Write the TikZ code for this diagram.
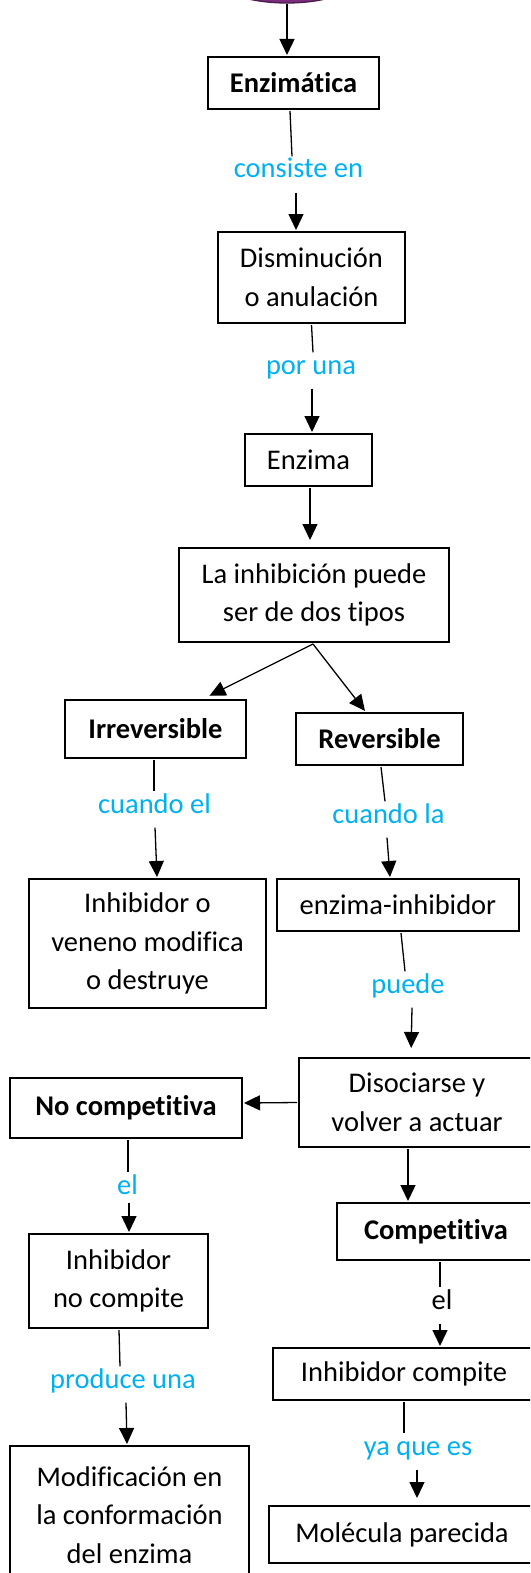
\documentclass[tikz,border=0pt]{standalone}
\usepackage{fontspec}
\setmainfont{Carlito}[Ligatures={NoCommon}]
\usetikzlibrary{positioning,arrows.meta,shapes.geometric}
\definecolor{celeste}{RGB}{0,176,240}
\definecolor{morado}{RGB}{125,45,125}

\begin{document}
\begin{tikzpicture}[x=1pt,y=1pt,font=\fontsize{28.5}{38.5}\selectfont,line width=1.3pt]
  \tikzstyle{caja} = [rectangle, draw, align=center, inner sep=0pt, outer sep=2pt]
  \tikzstyle{enlace} = [text=celeste, anchor=base, inner sep=2pt, text height=19pt, text depth=12pt]
  \tikzstyle{flecha} = [-{Triangle[width=15pt,length=16pt]}]

  \useasboundingbox (0,0) rectangle (530,-1573);
  \clip (0,0) rectangle (530,-1573);

  \node[ellipse, draw=morado!60!black, fill=morado, minimum width=154pt, minimum height=60pt, inner sep=0pt] (origen) at (287,27) {};

  \node[caja, minimum width=171pt, minimum height=52pt] (enzimatica) at (293.5,-83) {\textbf{Enzimática}};
  \node[enlace] (consiste) at (298.5,-178) {consiste en};
  \node[caja, minimum width=187pt, minimum height=91pt] (disminucion) at (311.5,-277.5) {Disminución\\o anulación};
  \node[enlace] (porUna) at (311,-374) {por una};
  \node[caja, minimum width=127pt, minimum height=52pt] (enzima) at (308.5,-460) {Enzima};
  \node[caja, minimum width=270pt, minimum height=94pt] (tipos) at (314,-595) {La inhibición puede\\ser de dos tipos};

  \node[caja, minimum width=181pt, minimum height=58pt] (irrev) at (155.5,-729) {\textbf{Irreversible}};
  \node[caja, minimum width=167pt, minimum height=52pt] (rev) at (379.5,-739) {\textbf{Reversible}};
  \node[enlace] (cuandoEl) at (154.5,-813) {cuando el};
  \node[enlace] (cuandoLa) at (388.5,-823) {cuando la};
  \node[caja, minimum width=237pt, minimum height=129pt] (veneno) at (147.5,-943.5) {Inhibidor o\\veneno modifica\\o destruye};
  \node[caja, minimum width=242pt, minimum height=52pt] (complejo) at (398,-905) {enzima-inhibidor};
  \node[enlace] (puede) at (408,-993) {puede};
  \node[caja, minimum width=236pt, minimum height=89pt] (disociarse) at (417,-1102.5) {Disociarse y\\volver a actuar};

  \node[caja, minimum width=232pt, minimum height=60pt] (noComp) at (126,-1108) {\textbf{No competitiva}};
  \node[enlace, text depth=6pt] (el1) at (127.5,-1194) {el};
  \node[caja, minimum width=179pt, minimum height=94pt] (noCompite) at (118.5,-1281) {Inhibidor\\no compite};
  \node[enlace] (produce) at (123,-1388) {produce una};
  \node[caja, minimum width=239pt, minimum height=138pt] (modif) at (129.5,-1515) {Modificación en\\la conformación\\del enzima};

  \node[caja, minimum width=198pt, minimum height=57pt] (comp) at (436,-1231.5) {\textbf{Competitiva}};
  \node[enlace, text=black] (el2) at (442,-1309) {el};
  \node[caja, minimum width=262pt, minimum height=52pt] (compite) at (404,-1374) {Inhibidor compite};
  \node[enlace] (yaQue) at (418,-1455) {ya que es};
  \node[caja, minimum width=266pt, minimum height=57pt] (molecula) at (402,-1534.5) {Molécula parecida};

  % tronco
  \draw[flecha] (origen.south) -- ([xshift=-6.5pt]enzimatica.north);
  \draw ([xshift=-3.5pt]enzimatica.south) -- ([xshift=-6.5pt]consiste.north);
  \draw[flecha] ([xshift=-2.5pt]consiste.south) -- ([xshift=-15.5pt]disminucion.north);
  \draw (disminucion.south) -- ([xshift=2pt]porUna.north);
  \draw[flecha] ([xshift=1pt]porUna.south) -- ([xshift=3.5pt]enzima.north);
  \draw[flecha, shorten >=6pt] ([xshift=1.5pt]enzima.south) -- ([xshift=-4pt]tipos.north);
  \draw[flecha, shorten >=5pt] ([xshift=-1pt]tipos.south) -- ([xshift=49.5pt]irrev.north);
  \draw[flecha] ([xshift=-1pt]tipos.south) -- ([xshift=-14.5pt]rev.north);

  % irreversible
  \draw ([xshift=-1.5pt]irrev.south) -- ([xshift=-0.5pt]cuandoEl.north);
  \draw[flecha] ([xshift=0.5pt]cuandoEl.south) -- ([xshift=9.5pt]veneno.north);

  % reversible
  \draw ([xshift=1.5pt]rev.south) -- ([xshift=-3.5pt]cuandoLa.north);
  \draw[flecha] ([xshift=-1.5pt]cuandoLa.south) -- ([xshift=-8pt]complejo.north);
  \draw ([xshift=3pt]complejo.south) -- ([xshift=-3pt]puede.north);
  \draw[flecha, shorten >=8pt] ([xshift=4pt]puede.south) -- ([xshift=-6pt]disociarse.north);
  \draw[flecha] (disociarse.west) -- ([yshift=5pt]noComp.east);
  \draw[flecha] ([xshift=-9pt]disociarse.south) -- ([xshift=-28pt]comp.north);

  % no competitiva
  \draw ([xshift=2pt]noComp.south) -- ([xshift=0.5pt]el1.north);
  \draw[flecha] ([xshift=1.5pt]el1.south) -- ([xshift=10.5pt]noCompite.north);
  \draw ([xshift=0.5pt]noCompite.south) -- ([xshift=-3pt]produce.north);
  \draw[flecha] ([xshift=3pt]produce.south) -- ([xshift=-2.5pt]modif.north);

  % competitiva
  \draw ([xshift=4pt]comp.south) -- ([xshift=-2pt]el2.north);
  \draw[flecha] ([xshift=-2pt]el2.south) -- ([xshift=36pt]compite.north);
  \draw (compite.south) -- ([xshift=-14pt]yaQue.north);
  \draw[flecha, shorten >=6pt] ([xshift=-1pt]yaQue.south) -- ([xshift=15pt]molecula.north);

\end{tikzpicture}
\end{document}
